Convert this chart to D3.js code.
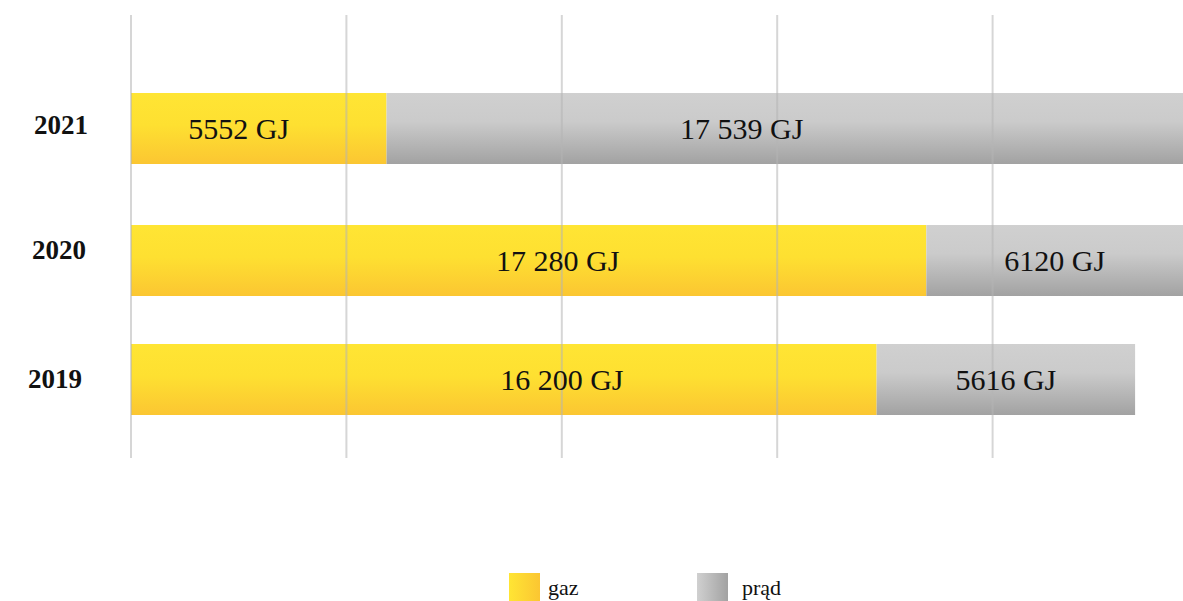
<!DOCTYPE html>
<html><head><meta charset="utf-8">
<script src="https://cdn.jsdelivr.net/npm/d3@7"></script>
<style>
html,body{margin:0;padding:0;background:#fff;}
svg{display:block;font-family:"Liberation Serif","DejaVu Serif",serif;}
</style></head>
<body><svg id="c" width="1183" height="601"></svg>
<script>
const years = ["2021", "2020", "2019"];
const gaz = [5552, 17280, 16200];
const prad = [17539, 6120, 5616];
const gazLabels = ["5552 GJ", "17 280 GJ", "16 200 GJ"];
const pradLabels = ["17 539 GJ", "6120 GJ", "5616 GJ"];
const seriesNames = ["gaz", "prąd"];

const W = 1183, H = 601;
const svg = d3.select("#c");
const defs = svg.append("defs");

const gy = defs.append("linearGradient").attr("id","gy").attr("x1",0).attr("y1",0).attr("x2",0).attr("y2",1);
gy.append("stop").attr("offset","0").attr("stop-color","#ffe534");
gy.append("stop").attr("offset","0.45").attr("stop-color","#fee031");
gy.append("stop").attr("offset","1").attr("stop-color","#fbc632");
const gg = defs.append("linearGradient").attr("id","gg").attr("x1",0).attr("y1",0).attr("x2",0).attr("y2",1);
gg.append("stop").attr("offset","0").attr("stop-color","#d0d0d0");
gg.append("stop").attr("offset","0.4").attr("stop-color","#cbcbcb");
gg.append("stop").attr("offset","1").attr("stop-color","#a2a2a2");
const lgy = defs.append("linearGradient").attr("id","lgy").attr("x1",0).attr("y1",0).attr("x2",1).attr("y2",0);
lgy.append("stop").attr("offset","0").attr("stop-color","#ffe534");
lgy.append("stop").attr("offset","1").attr("stop-color","#fbc632");
const lgg = defs.append("linearGradient").attr("id","lgg").attr("x1",0).attr("y1",0).attr("x2",1).attr("y2",0);
lgg.append("stop").attr("offset","0").attr("stop-color","#d0d0d0");
lgg.append("stop").attr("offset","1").attr("stop-color","#a2a2a2");
defs.append("clipPath").attr("id","clip").append("rect").attr("x",0).attr("y",0).attr("width",W).attr("height",H);

const xMax = 23400;
const x = d3.scaleLinear().domain([0, xMax]).range([131, 1208]);
const yTop = {"2021": 93, "2020": 225, "2019": 344};
const barH = 71;

const gridVals = d3.range(0, 5).map(i => i * xMax / 5);

const g = svg.append("g").attr("clip-path","url(#clip)");

years.forEach((yr, i) => {
  const top = yTop[yr];
  g.append("rect").attr("x", x(0)).attr("y", top).attr("width", x(gaz[i]) - x(0)).attr("height", barH).attr("fill","url(#gy)");
  g.append("rect").attr("x", x(gaz[i])).attr("y", top).attr("width", x(gaz[i] + prad[i]) - x(gaz[i])).attr("height", barH).attr("fill","url(#gg)");
});

g.selectAll("line.grid").data(gridVals).enter().append("line")
  .attr("class","grid")
  .attr("x1", d => x(d)).attr("x2", d => x(d))
  .attr("y1", 15).attr("y2", 458)
  .attr("stroke", "#b4b4b4").attr("stroke-opacity", 0.55).attr("stroke-width", 2);

const gazDx = [-20, 29, 58];
const pradDx = [-43, 0, 0];
years.forEach((yr, i) => {
  const top = yTop[yr];
  const cy = top + barH / 2 + 10;
  const gx0 = x(0), gx1 = Math.min(x(gaz[i]), W);
  const px0 = x(gaz[i]), px1 = Math.min(x(gaz[i] + prad[i]), W);
  svg.append("text").attr("x", (gx0 + gx1) / 2 + gazDx[i]).attr("y", cy)
    .attr("text-anchor","middle").attr("font-size", 30).attr("fill","#111").text(gazLabels[i]);
  svg.append("text").attr("x", (px0 + px1) / 2 + pradDx[i]).attr("y", cy)
    .attr("text-anchor","middle").attr("font-size", 30).attr("fill","#111").text(pradLabels[i]);
});

const yearY = {"2021": 134, "2020": 259, "2019": 388};
const yearX = {"2021": 61, "2020": 59, "2019": 55};
years.forEach(yr => {
  svg.append("text").attr("x", yearX[yr]).attr("y", yearY[yr]).attr("text-anchor","middle")
    .attr("font-size", 27).attr("font-weight","bold").attr("fill","#111").text(yr);
});

const leg = [{x: 509, fill: "url(#lgy)", tx: 548}, {x: 697, fill: "url(#lgg)", tx: 742}];
leg.forEach((l, i) => {
  svg.append("rect").attr("x", l.x).attr("y", 573).attr("width", 31).attr("height", 30).attr("fill", l.fill);
  svg.append("text").attr("x", l.tx).attr("y", 595).attr("font-size", 22).attr("fill","#111").text(seriesNames[i]);
});
</script></body></html>
